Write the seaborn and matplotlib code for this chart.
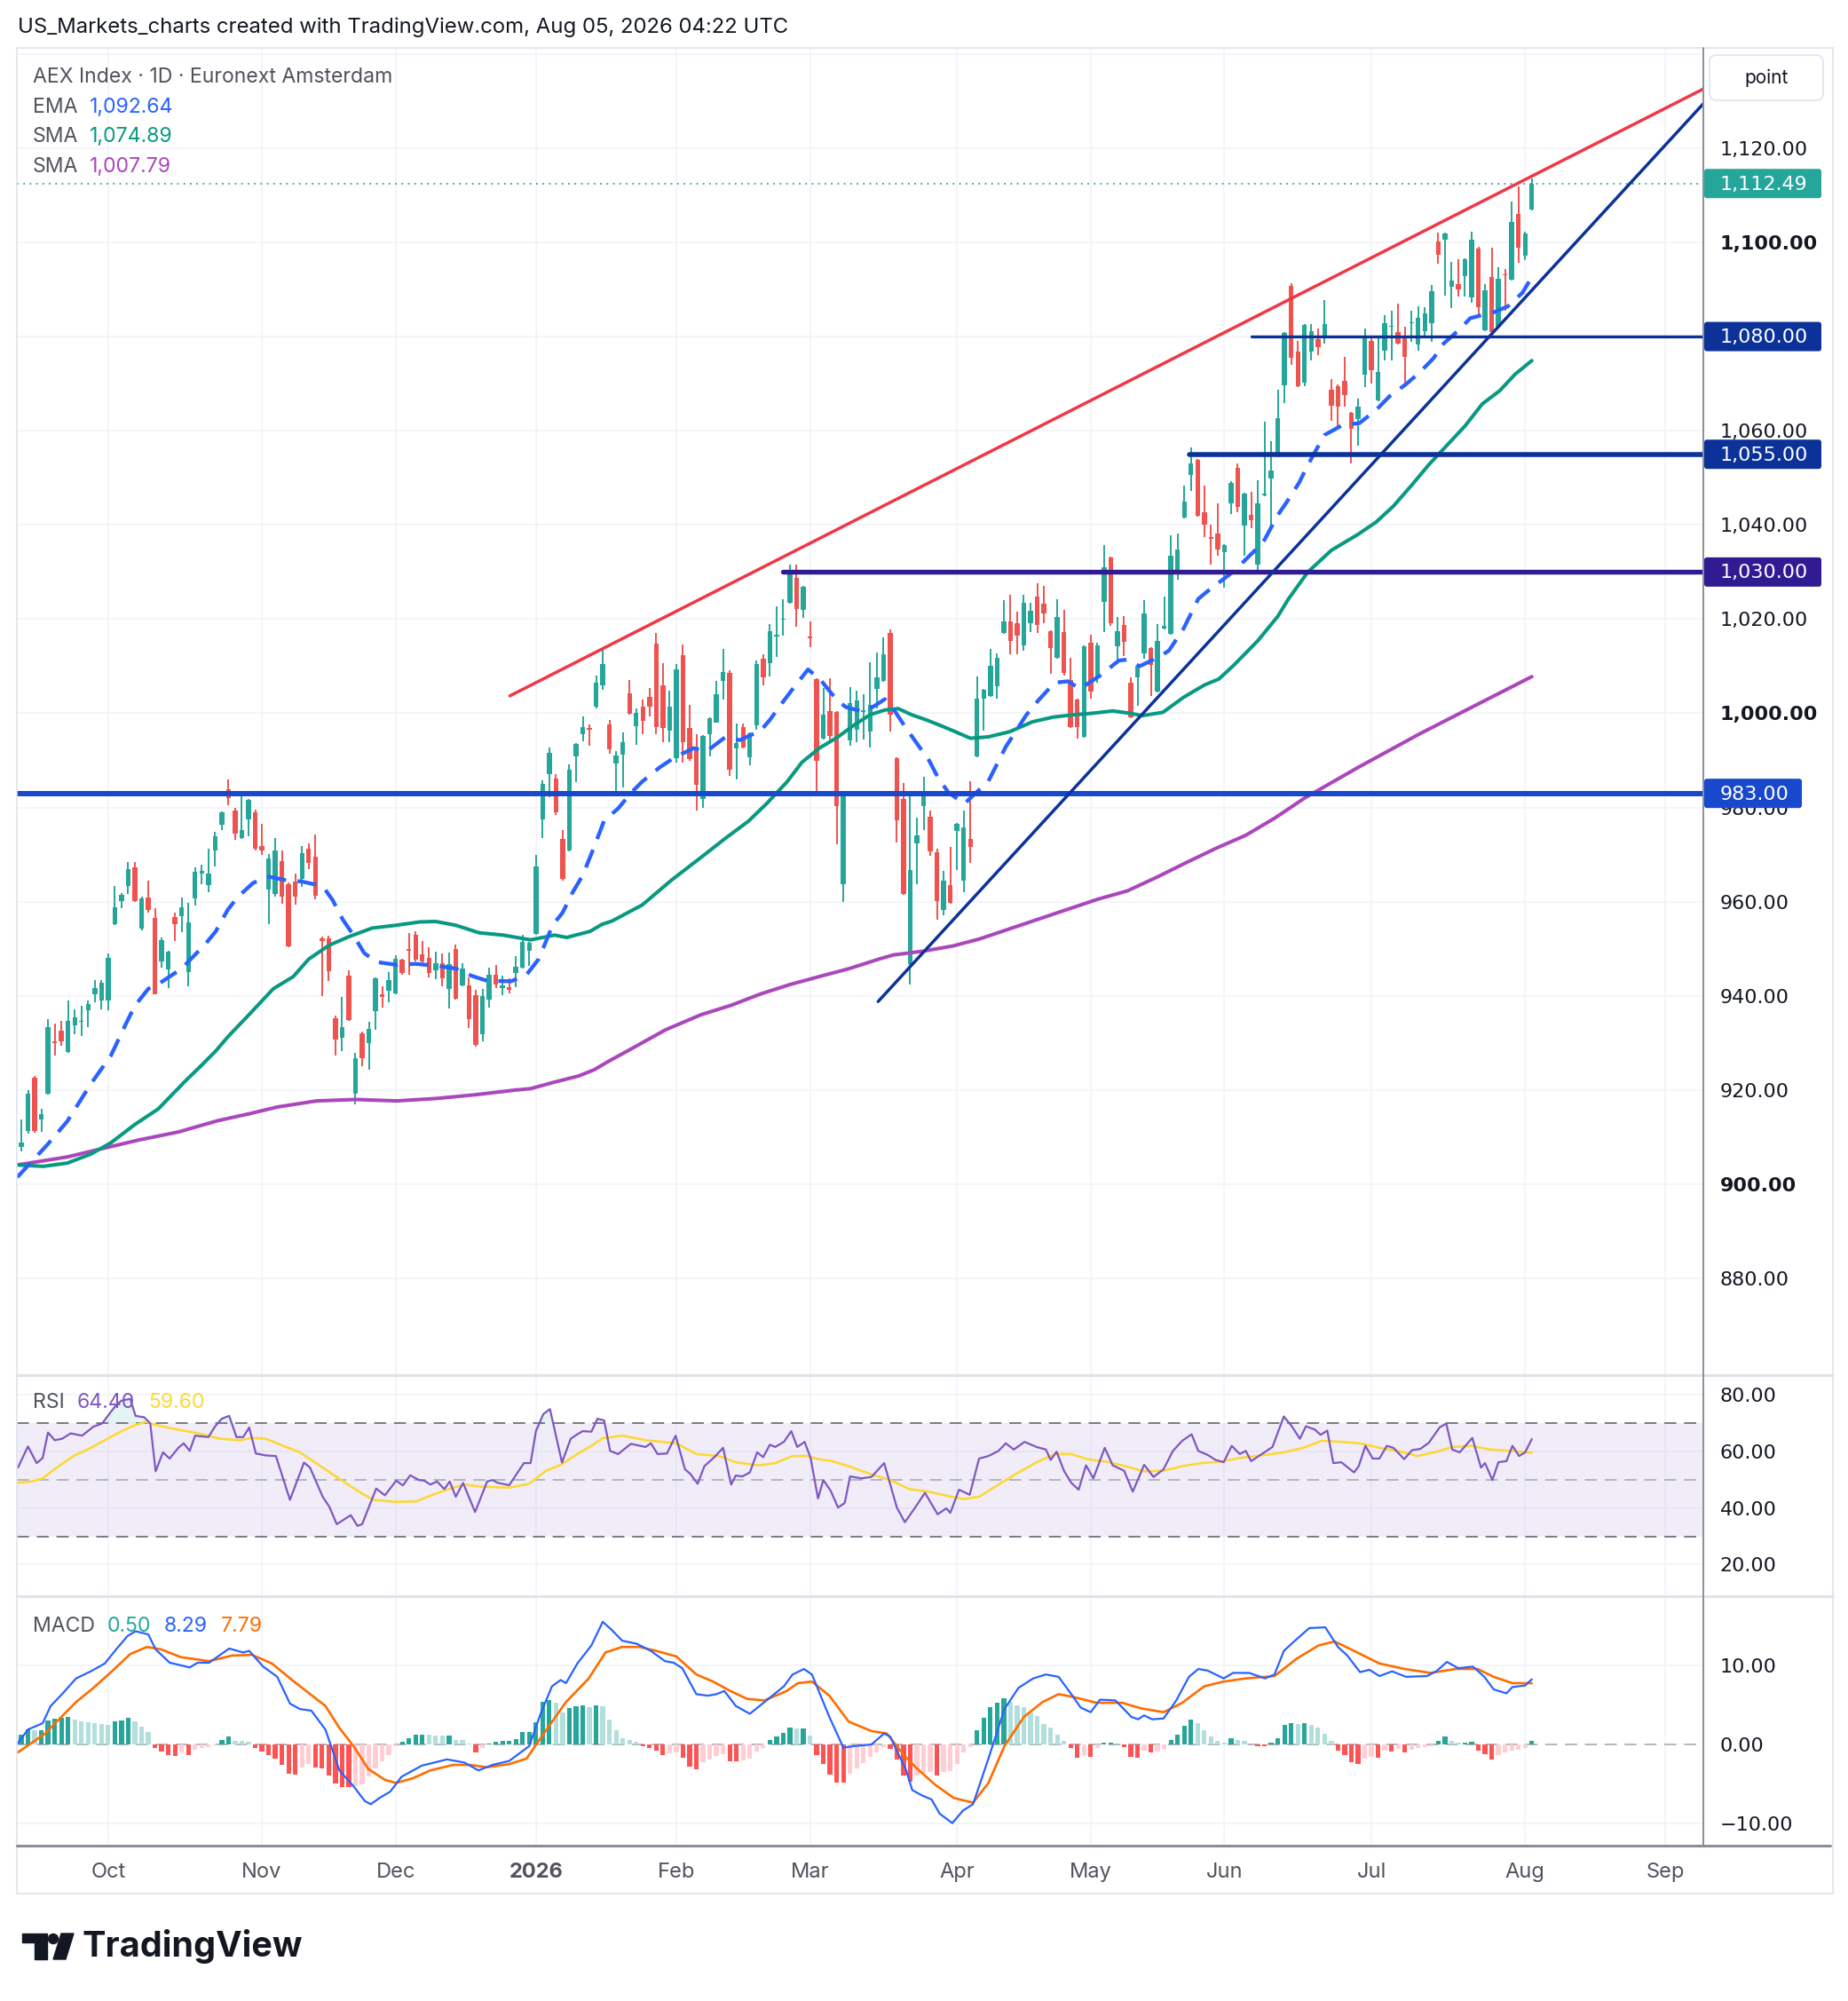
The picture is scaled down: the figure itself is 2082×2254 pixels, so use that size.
import numpy as np
import pandas as pd
import matplotlib
matplotlib.use("Agg")
import matplotlib.pyplot as plt
from matplotlib.patches import Rectangle, FancyBboxPatch, Polygon, Circle
import seaborn as sns

W, H = 2082, 2254

# ---------------- data ----------------
opens = [907.9, 911.4, 922.6, 913.7, 919.3, 930.4, 932.6, 928.1, 933.7, 934.4,
         936.9, 940.4, 939.0, 939.0, 955.3, 960.2, 963.3, 967.3, 954.2, 960.8,
         956.6, 947.4, 945.7, 956.8, 956.9, 945.1, 960.7, 965.9, 963.6, 970.9,
         976.3, 983.8, 979.4, 973.6, 977.5, 979.0, 971.8, 962.6, 961.7, 968.7,
         963.8, 964.3, 964.8, 971.2, 969.6, 952.3, 952.2, 935.2, 931.1, 944.3,
         919.2, 932.0, 930.0, 936.7, 940.4, 941.0, 940.6, 947.6, 950.0, 953.0,
         948.8, 948.1, 945.4, 947.0, 941.4, 950.0, 942.2, 942.3, 940.2, 931.9,
         939.3, 944.4, 941.7, 941.9, 944.9, 946.0, 949.6, 953.2, 977.5, 987.0,
         986.1, 973.4, 970.8, 990.9, 995.5, 996.8, 1001.5, 1006.0, 997.7, 989.4,
         991.2, 1004.2, 997.2, 1001.5, 1003.5, 1014.8, 1005.9, 996.3, 990.4, 1012.4,
         996.8, 992.1, 981.8, 995.6, 998.1, 1006.9, 1008.5, 992.6, 997.1, 990.6,
         997.4, 1011.6, 1010.6, 1016.3, 1019.8, 1023.5, 1028.7, 1022.0, 1016.3, 1007.3,
         994.7, 1000.5, 1000.2, 963.8, 994.2, 996.5, 1000.3, 996.2, 1005.2, 1006.9,
         1017.1, 990.4, 981.8, 946.7, 972.4, 980.3, 978.0, 970.5, 958.2, 963.5,
         975.1, 964.4, 973.4, 990.8, 1003.1, 1003.7, 1005.8, 1017.0, 1019.6, 1019.1,
         1014.4, 1019.1, 1024.8, 1023.3, 1017.5, 1011.8, 1017.3, 1007.0, 1002.9, 995.0,
         1014.9, 1007.6, 1023.6, 1033.0, 1014.2, 1018.8, 1006.5, 1007.6, 1012.8, 1013.9,
         1004.7, 1018.0, 1016.8, 1029.8, 1041.6, 1050.7, 1053.8, 1042.6, 1037.4, 1038.2,
         1034.2, 1044.5, 1052.2, 1039.8, 1042.1, 1031.6, 1046.3, 1049.9, 1054.6, 1069.6,
         1090.8, 1076.8, 1070.3, 1076.8, 1079.5, 1080.1, 1068.8, 1069.5, 1070.5, 1063.8,
         1062.5, 1072.0, 1079.1, 1066.5, 1077.0, 1082.0, 1080.9, 1080.1, 1082.8, 1078.3,
         1081.2, 1082.8, 1100.1, 1100.6, 1090.5, 1091.1, 1092.9, 1088.3, 1098.7, 1081.4,
         1092.7, 1082.0, 1093.3, 1092.1, 1106.0, 1097.1, 1107.0]
highs = [913.7, 919.9, 923.0, 916.0, 935.0, 934.2, 934.7, 939.0, 937.1, 937.9,
         939.0, 943.4, 943.3, 949.0, 963.3, 961.9, 968.5, 968.5, 961.0, 964.5,
         958.6, 952.4, 949.6, 957.6, 960.9, 959.7, 967.3, 967.9, 971.2, 974.8,
         979.2, 986.0, 980.0, 982.5, 981.8, 979.5, 976.5, 970.2, 973.5, 970.9,
         964.0, 966.0, 971.8, 972.4, 974.3, 952.5, 952.7, 935.9, 939.7, 945.4,
         927.9, 932.4, 934.4, 944.0, 942.0, 945.1, 948.6, 947.8, 953.3, 953.7,
         951.6, 950.4, 949.4, 949.1, 949.2, 950.9, 946.9, 943.9, 941.2, 941.5,
         945.9, 946.6, 944.3, 943.7, 948.5, 952.9, 951.5, 969.9, 985.8, 992.7,
         987.1, 975.2, 989.1, 993.7, 999.3, 997.7, 1008.0, 1013.5, 998.5, 991.9,
         995.9, 1007.1, 1001.1, 1002.9, 1005.4, 1017.1, 1010.6, 1004.8, 1010.5, 1014.6,
         1001.8, 995.5, 995.4, 999.1, 1006.8, 1013.6, 1009.1, 997.8, 997.8, 995.9,
         1011.2, 1012.6, 1019.0, 1022.7, 1024.2, 1031.6, 1031.6, 1027.0, 1019.5, 1007.5,
         1005.4, 1007.5, 1000.4, 983.5, 1005.5, 1004.8, 1004.0, 1010.8, 1012.9, 1016.1,
         1017.8, 990.7, 985.2, 982.7, 977.8, 986.5, 979.3, 971.2, 966.5, 971.6,
         976.8, 979.3, 985.6, 1007.9, 1005.1, 1013.7, 1012.8, 1024.0, 1025.1, 1021.5,
         1025.1, 1023.5, 1027.7, 1027.1, 1017.7, 1024.3, 1022.0, 1011.8, 1003.1, 1014.4,
         1016.7, 1014.9, 1035.8, 1033.2, 1020.4, 1020.6, 1007.6, 1010.2, 1024.0, 1014.1,
         1018.9, 1024.8, 1037.7, 1038.2, 1048.4, 1056.5, 1054.0, 1048.4, 1040.0, 1044.5,
         1036.0, 1049.2, 1053.1, 1046.8, 1047.0, 1049.4, 1062.0, 1057.8, 1068.8, 1081.0,
         1091.4, 1079.1, 1082.7, 1082.7, 1081.7, 1087.7, 1070.9, 1069.8, 1075.7, 1064.0,
         1066.9, 1081.8, 1079.9, 1080.1, 1084.5, 1085.5, 1086.9, 1082.0, 1085.4, 1086.4,
         1086.2, 1090.9, 1102.1, 1102.1, 1095.9, 1096.4, 1096.6, 1102.3, 1099.0, 1091.1,
         1098.8, 1094.8, 1094.3, 1108.7, 1111.9, 1102.3, 1113.6]
lows = [906.9, 910.8, 911.0, 911.1, 919.0, 927.4, 929.4, 927.9, 931.8, 931.4,
        933.4, 938.7, 937.2, 936.9, 955.0, 958.7, 961.7, 960.0, 954.0, 957.6,
        940.3, 946.0, 941.7, 951.7, 953.6, 942.0, 959.1, 963.8, 962.1, 967.5,
        975.3, 980.4, 973.1, 973.4, 973.9, 970.9, 970.0, 955.3, 961.1, 959.5,
        950.4, 959.3, 963.1, 967.0, 960.5, 940.0, 943.2, 927.3, 928.2, 934.6,
        917.0, 925.0, 924.3, 932.8, 937.5, 938.7, 940.4, 944.4, 944.5, 947.4,
        946.8, 944.0, 943.5, 942.0, 937.4, 939.2, 942.0, 933.2, 929.3, 930.4,
        937.5, 941.6, 940.1, 940.6, 941.8, 945.8, 946.3, 952.9, 973.6, 982.2,
        978.5, 964.5, 970.6, 985.3, 994.0, 993.1, 1001.0, 1005.0, 991.5, 982.5,
        984.2, 999.8, 993.4, 995.6, 999.3, 995.6, 993.8, 993.8, 989.5, 989.5,
        990.0, 979.3, 980.0, 990.8, 998.0, 1003.0, 986.8, 985.9, 992.6, 988.9,
        996.6, 1006.0, 1007.9, 1011.9, 1016.5, 1023.3, 1018.4, 1020.2, 1014.0, 983.3,
        994.5, 994.3, 972.2, 959.9, 993.2, 993.8, 994.5, 992.8, 1001.0, 1006.7,
        996.1, 972.5, 961.4, 942.4, 963.8, 975.3, 969.8, 956.1, 957.2, 959.5,
        966.7, 962.1, 968.3, 990.6, 996.4, 1003.5, 1003.1, 1016.8, 1012.6, 1012.6,
        1013.3, 1017.3, 1017.0, 1019.1, 1008.3, 1011.6, 1008.1, 996.8, 994.7, 994.8,
        1003.1, 1006.5, 1017.3, 1018.6, 1010.5, 1012.1, 998.9, 1001.6, 1011.5, 1003.7,
        1004.5, 1017.8, 1016.6, 1028.3, 1041.4, 1047.3, 1041.7, 1037.4, 1031.6, 1033.5,
        1026.7, 1042.4, 1042.6, 1033.5, 1039.3, 1029.9, 1046.1, 1039.8, 1054.4, 1065.8,
        1073.9, 1069.3, 1069.5, 1074.9, 1076.0, 1078.6, 1062.2, 1060.7, 1065.1, 1053.0,
        1056.9, 1069.3, 1070.0, 1066.3, 1075.0, 1075.0, 1078.4, 1070.1, 1078.9, 1077.0,
        1079.8, 1078.9, 1095.4, 1088.6, 1086.1, 1088.5, 1088.5, 1087.1, 1084.4, 1081.2,
        1080.7, 1081.7, 1085.5, 1091.9, 1095.7, 1096.2, 1106.8]
closes = [908.9, 919.2, 911.4, 914.8, 933.4, 930.0, 930.4, 934.7, 935.4, 934.5,
          938.2, 941.6, 942.8, 948.1, 958.8, 961.4, 966.9, 960.2, 960.7, 958.3,
          940.4, 951.9, 949.4, 955.2, 958.9, 955.7, 966.3, 966.5, 965.9, 973.9,
          979.0, 982.0, 974.4, 975.2, 981.7, 971.3, 970.8, 969.2, 970.8, 961.0,
          950.6, 961.0, 970.4, 968.3, 961.2, 951.7, 945.3, 930.8, 933.4, 934.8,
          926.7, 926.8, 932.9, 943.8, 939.7, 943.3, 947.8, 944.8, 949.6, 947.6,
          947.4, 944.9, 947.0, 943.7, 946.8, 939.4, 945.8, 935.0, 929.5, 940.0,
          944.4, 942.5, 942.2, 941.2, 946.1, 951.4, 951.3, 967.5, 985.0, 991.6,
          979.0, 964.8, 988.0, 993.5, 997.0, 996.6, 1006.5, 1010.5, 992.4, 991.0,
          993.9, 999.9, 1000.1, 998.4, 1001.5, 997.0, 996.8, 1001.5, 1009.3, 993.8,
          990.2, 984.8, 995.2, 998.9, 1004.0, 1008.7, 988.0, 993.6, 992.8, 995.8,
          1010.5, 1007.6, 1017.4, 1016.5, 1020.0, 1029.8, 1022.2, 1026.9, 1016.0, 990.0,
          999.8, 995.1, 980.3, 983.2, 1002.2, 1002.7, 1000.5, 1001.7, 1007.6, 1012.6,
          999.8, 977.3, 961.6, 966.7, 974.0, 983.2, 970.6, 960.1, 964.4, 959.7,
          976.6, 975.7, 971.7, 1003.1, 1004.9, 1010.0, 1011.8, 1019.6, 1015.4, 1016.5,
          1023.5, 1021.7, 1018.8, 1021.2, 1013.8, 1020.4, 1008.6, 997.1, 997.1, 1014.2,
          1004.7, 1014.4, 1031.1, 1019.1, 1017.5, 1015.2, 999.2, 1010.0, 1021.2, 1010.2,
          1015.4, 1018.6, 1033.5, 1034.8, 1044.9, 1053.1, 1041.9, 1040.0, 1037.1, 1034.8,
          1035.8, 1048.9, 1043.9, 1046.6, 1041.0, 1044.5, 1046.5, 1051.5, 1062.7, 1080.8,
          1075.4, 1069.5, 1082.5, 1081.2, 1077.8, 1082.6, 1065.4, 1065.1, 1067.5, 1060.5,
          1065.1, 1079.9, 1072.8, 1072.4, 1082.9, 1082.2, 1078.6, 1075.7, 1083.0, 1083.9,
          1085.0, 1089.6, 1097.4, 1101.9, 1091.8, 1090.1, 1096.4, 1100.6, 1086.3, 1089.9,
          1080.9, 1092.2, 1093.0, 1104.3, 1098.9, 1101.8, 1112.49]

# moving averages: (bar index, value)
ema20 = [(-0.6, 901.5), (3.9, 908.4), (6.9, 913.4), (10.4, 921.3), (13.4, 927.3), (15.8, 934.5),
         (17, 937.9), (19, 941.5), (20.5, 942.5), (24, 945.8), (27.6, 951.1), (29.1, 953.7),
         (30.9, 958.3), (32.4, 961.0), (34.7, 964.0), (37.1, 965.3), (39.5, 964.6), (41.9, 964.3),
         (45.1, 963.3), (46.6, 960.3), (48.1, 956.2), (49.6, 953.1), (51.3, 949.1), (53.1, 947.2),
         (56.1, 946.6), (59, 946.8), (62, 946.4), (65, 945.8), (67.3, 944.3), (69.7, 943.2),
         (73.3, 943.1), (75.6, 944.5), (77.4, 947.8), (79.5, 955.0), (81, 957.7), (82.5, 962.0),
         (84, 965.6), (85.7, 971.6), (87.2, 977.2), (89.3, 979.8), (91.3, 983.2), (92.9, 985.5),
         (95.5, 988.5), (97.7, 990.6), (100.6, 992.6), (102.6, 992.0), (105.3, 994.9), (107.5, 994.3),
         (110.6, 996.3), (112, 998.6), (114.1, 1002.7), (115.7, 1005.7), (117.7, 1009.3), (119.4, 1007.4),
         (122.1, 1002.7), (123.4, 1001.3), (126.1, 1000.3), (127.8, 1001.7), (129.2, 1003.0), (130.3, 1001.3),
         (132.3, 997.0), (134.5, 992.6), (135.6, 990.6), (137.1, 986.5), (138.7, 983.2), (141.1, 980.8),
         (144.7, 985.6), (147.3, 992.9), (150.4, 999.7), (152.2, 1002.8), (154.6, 1006.5), (156.6, 1006.8),
         (158.4, 1005.2), (161.5, 1008.1), (164.2, 1011.2), (165.5, 1011.4), (167.3, 1010.0), (170, 1011.8),
         (171.7, 1013.3), (173.9, 1018.0), (176.1, 1024.3), (177.9, 1026.4), (180.8, 1029.5), (182.8, 1032.1),
         (185.8, 1036.3), (188.0, 1042.1), (189.4, 1045.0), (191.2, 1049.0), (192.3, 1052.2), (193.6, 1055.6),
         (195, 1059.1), (197.8, 1061.3), (200.2, 1061.6), (202.7, 1064.4), (204.7, 1067.3), (207.1, 1069.8),
         (209.1, 1072.2), (211.3, 1075.4), (212.8, 1078.5), (215.1, 1081.4), (216.8, 1083.9), (220.4, 1085.2),
         (222.4, 1086.4), (224.6, 1089.3), (226, 1092.64)]
sma50 = [(-0.6, 904.1), (3.3, 903.8), (6.9, 904.5), (10.4, 906.4), (13.4, 908.8), (17, 912.7),
         (20.5, 916.0), (24.6, 922.0), (27.0, 925.3), (29.1, 928.3), (30.9, 931.3), (34.2, 936.2),
         (37.7, 941.5), (40.7, 944.1), (43.0, 947.8), (46.0, 950.7), (48.9, 952.5), (52.5, 954.4),
         (56.1, 955.0), (59.6, 955.7), (62.0, 955.8), (65, 955.0), (68.5, 953.4), (72.1, 952.9),
         (76.2, 951.9), (79.8, 952.9), (81.6, 952.4), (85.1, 953.7), (86.9, 955.2), (88.4, 955.9),
         (92.9, 959.3), (97.3, 964.6), (101.7, 969.4), (105.3, 973.4), (108.8, 977.1), (111.5, 980.8),
         (114.6, 985.5), (116.8, 989.6), (119.4, 992.6), (122.1, 994.9), (124.7, 997.6), (127.0, 999.7),
         (129.2, 1000.7), (131.2, 1001.0), (133.2, 999.7), (135.4, 998.6), (137.2, 997.6), (139.4, 996.3),
         (142, 994.7), (144.7, 995.0), (147.9, 996.1), (151.3, 998.2), (154.4, 999.2), (157.5, 999.7),
         (160.2, 1000.0), (163.3, 1000.5), (165.9, 1000.0), (167.7, 999.5), (170.8, 1000.2), (173.9, 1003.4),
         (177, 1006.0), (179.2, 1007.3), (181.4, 1010.2), (185.0, 1015.4), (188.0, 1020.6), (189.6, 1024.3),
         (192.5, 1030.0), (196.0, 1034.6), (200.0, 1038.0), (202.7, 1040.6), (205.3, 1044.0), (208.0, 1048.4),
         (210.6, 1052.8), (213.3, 1056.9), (216, 1061.0), (218.6, 1065.7), (221.2, 1068.5), (223.5, 1072.0),
         (226, 1074.89)]
sma200 = [(-0.6, 904.1), (6.9, 905.8), (11.6, 907.4), (17.6, 909.4), (23.5, 911.1), (29.4, 913.5),
          (34.2, 915.0), (38.3, 916.4), (44.2, 917.7), (50.1, 918.0), (56.1, 917.7), (62, 918.2),
          (67.9, 919.0), (73.9, 920.0), (76.2, 920.3), (79.8, 921.7), (83.4, 923.0), (85.7, 924.3),
          (88.1, 926.3), (89.8, 927.6), (96.4, 932.8), (101.7, 936.0), (106.2, 938.0), (110.6, 940.4),
          (115.0, 942.4), (119.4, 944.1), (123.9, 945.8), (128.3, 947.8), (130.5, 948.7), (135.0, 949.5),
          (139.4, 950.6), (143.4, 952.1), (147.8, 954.2), (152.2, 956.3), (156.6, 958.4), (161.0, 960.5),
          (165.5, 962.3), (169.9, 965.2), (174.3, 968.3), (178.7, 971.3), (183.2, 974.1), (187.6, 977.8),
          (192.0, 982.0), (200, 988.5), (209.3, 995.7), (226, 1007.79)]

# drawings: trend lines (start idx, start price, end idx, end price) and horizontal levels (price, start idx)
red_trend = (73.1, 1003.7, 251.7, 1132.6)
navy_trend = (128.2, 938.8, 251.7, 1129.5)
levels = [(983.0, -0.7), (1030.0, 114.0), (1055.0, 174.8), (1080.0, 184.0)]
last_price = 1112.49

# RSI(14) and its moving average: (bar index, value)
rsi = [(-0.5, 54.3), (1.0, 61.8), (2.3, 55.9), (3.2, 57.7), (4.0, 66.7), (5.0, 64.0), (6.1, 64.5),
       (7.4, 66.4), (9.1, 65.6), (10.8, 68.8), (12.1, 69.9), (13.3, 73.7), (14.2, 76.4), (15.0, 78.0),
       (16.3, 78.6), (17.1, 72.6), (18.4, 72.1), (19.3, 69.9), (20.1, 53.0), (21.2, 59.7), (22.2, 57.5),
       (23.5, 61.3), (24.3, 62.9), (25.2, 60.2), (26.0, 65.6), (28.0, 65.1), (29.0, 68.9), (30.0, 71.6),
       (31.1, 72.6), (32.2, 65.1), (33.2, 65.1), (34.1, 68.5), (35.1, 59.3), (36.6, 58.6), (38.1, 58.4),
       (40.2, 42.9), (42.3, 56.1), (43.2, 54.3), (45.1, 44.0), (46.1, 40.4), (47.2, 34.3), (49.3, 37.5),
       (50.3, 33.7), (51.0, 34.3), (53.1, 46.9), (54.4, 44.5), (56.1, 49.7), (57.1, 48.0), (58.2, 51.6),
       (59.5, 49.9), (60.3, 49.7), (61.2, 48.3), (62.2, 49.4), (63.3, 46.7), (64.1, 49.4), (65.0, 44.0),
       (66.1, 48.9), (67.9, 38.6), (69.7, 49.4), (70.5, 49.9), (71.3, 48.9), (73.0, 48.1), (75.2, 55.9),
       (76.2, 55.9), (77.0, 67.2), (78.1, 73.2), (79.1, 75.0), (80.9, 56.1), (82.2, 64.5), (83.2, 66.1),
       (84.0, 67.2), (85.3, 67.0), (86.2, 71.6), (87.2, 71.0), (88.1, 60.2), (89.3, 59.1), (91.2, 62.7),
       (93.4, 61.6), (94.2, 62.9), (95.2, 59.1), (96.6, 59.3), (97.9, 65.6), (99.3, 53.7), (100.1, 52.1),
       (101.2, 48.6), (102.2, 54.8), (103.7, 58.0), (105.0, 61.3), (106.2, 48.3), (106.9, 51.5),
       (107.9, 51.2), (109.0, 52.6), (110.1, 59.7), (111.0, 58.0), (112.0, 62.4), (112.8, 61.6),
       (114.1, 63.4), (115.2, 67.2), (116.1, 61.6), (117.2, 63.4), (118.1, 57.7), (119.2, 43.4),
       (120.0, 49.9), (121.1, 46.1), (122.2, 40.2), (123.2, 41.8), (124.0, 51.2), (125.7, 50.5),
       (127.2, 51.0), (129.1, 55.9), (131.0, 40.2), (132.2, 35.0), (133.8, 40.4), (135.2, 45.4),
       (137.1, 37.8), (138.4, 39.9), (139.0, 38.3), (140.3, 46.5), (141.9, 44.7), (143.3, 57.5),
       (144.7, 58.4), (146.2, 60.2), (147.3, 62.9), (148.5, 60.7), (150.1, 63.4), (151.9, 61.6),
       (153.3, 60.7), (154.0, 57.0), (154.9, 59.9), (156.0, 53.2), (157.1, 48.9), (158.2, 46.5),
       (159.3, 55.1), (160.4, 50.5), (162.1, 61.3), (163.3, 55.1), (165.0, 53.2), (166.3, 45.8),
       (168.0, 55.3), (169.4, 51.0), (170.9, 53.7), (172.3, 60.2), (173.7, 63.8), (175.1, 66.1),
       (176.1, 60.2), (177.5, 58.8), (178.7, 57.0), (179.9, 56.2), (181.1, 62.0), (182.3, 59.1),
       (183.2, 60.2), (184.0, 56.6), (185.6, 59.1), (187.2, 61.6), (188.9, 72.4), (190.1, 68.9),
       (191.3, 64.5), (192.2, 68.9), (193.5, 67.8), (194.4, 65.9), (195.4, 67.4), (196.3, 55.9),
       (197.5, 56.2), (199.4, 52.6), (200.1, 54.8), (201.1, 62.0), (202.2, 57.5), (203.2, 57.5),
       (204.3, 62.0), (205.3, 61.3), (206.9, 57.3), (208.1, 60.5), (209.3, 60.9), (210.6, 63.1),
       (212.2, 68.5), (213.2, 69.9), (214.1, 60.7), (215.2, 59.7), (217.1, 64.8), (218.4, 54.3),
       (219.0, 55.9), (220.1, 49.9), (221.0, 56.2), (222.2, 56.6), (223.1, 62.0), (224.1, 58.4),
       (225.0, 59.7), (226.0, 64.4)]
rsi_ma = [(-0.5, 48.9), (1.5, 49.4), (3.2, 50.5), (5.3, 54.3), (7.8, 58.4), (10.4, 61.3), (12.9, 64.5),
          (15.0, 67.2), (17.1, 69.4), (18.7, 70.5), (20.1, 69.4), (22.2, 68.3), (26.5, 66.4), (29.8, 64.5),
          (32.8, 64.0), (34.5, 64.8), (36.6, 64.5), (39.2, 62.0), (41.7, 59.7), (45.1, 54.3), (48.5, 48.9),
          (51.0, 45.1), (52.7, 42.9), (56.1, 42.2), (59.1, 42.4), (62.0, 45.1), (64.6, 47.2), (66.3, 48.3),
          (68.8, 47.6), (73.0, 47.2), (76.0, 48.6), (78.5, 53.2), (80.7, 55.3), (83.2, 59.1), (85.3, 62.0),
          (87.0, 64.7), (90.0, 65.6), (93.4, 64.0), (95.9, 63.4), (98.0, 62.9), (101.0, 59.1), (104.4, 58.4),
          (106.9, 56.2), (110.3, 55.1), (112.8, 55.9), (115.4, 58.4), (117.5, 58.4), (119.2, 57.3),
          (121.3, 56.6), (123.8, 54.8), (127.2, 51.9), (130.0, 49.9), (132.9, 46.7), (135.7, 45.8),
          (138.6, 44.3), (140.9, 43.2), (143.3, 44.0), (146.2, 48.3), (149.0, 52.3), (151.9, 56.2),
          (154.7, 59.1), (157.1, 59.1), (159.5, 57.3), (162.3, 56.4), (165.2, 54.8), (168.0, 53.0),
          (170.9, 53.2), (173.7, 54.8), (176.6, 55.9), (179.4, 56.4), (182.3, 57.7), (186.1, 58.8),
          (188.9, 59.7), (191.8, 61.3), (194.6, 63.8), (197.5, 63.4), (200.3, 62.9), (203.2, 61.3),
          (206.0, 60.2), (208.9, 58.4), (211.7, 59.9), (214.1, 61.6), (216.9, 62.0), (219.8, 60.7),
          (223.1, 60.2), (226.0, 59.6)]

# MACD line, signal line: (bar index, value); histogram per bar
macd = [(-0.5, 0.2), (1.0, 1.9), (3.2, 2.7), (4.4, 4.9), (6.1, 6.4), (8.2, 8.4), (10.4, 9.3), (12.5, 10.3),
        (14.2, 12.1), (15.9, 13.8), (17.1, 14.4), (19.0, 14.0), (20.1, 12.1), (22.2, 10.4), (25.2, 9.8),
        (26.4, 10.4), (28.1, 10.4), (31.1, 12.2), (33.2, 11.7), (34.1, 11.9), (36.2, 9.9), (38.3, 8.6),
        (40.2, 5.2), (41.7, 4.5), (43.4, 4.3), (45.5, 1.9), (47.6, -3.3), (49.7, -5.3), (51.4, -7.2),
        (52.3, -7.6), (53.6, -6.8), (55.2, -6.0), (56.9, -4.1), (59.9, -2.7), (63.7, -1.9), (66.3, -2.3),
        (68.4, -3.3), (70.5, -2.6), (73.0, -2.1), (76.0, -0.2), (77.7, 3.9), (79.4, 7.4), (80.7, 8.2),
        (81.5, 7.8), (83.2, 10.3), (85.3, 12.6), (87.0, 15.6), (88.3, 14.6), (89.9, 13.2), (92.1, 12.8),
        (94.2, 11.9), (96.3, 10.6), (97.6, 10.4), (98.9, 9.7), (101.0, 6.4), (102.7, 6.2), (104.0, 6.4),
        (105.2, 6.8), (106.9, 4.9), (109.0, 3.9), (111.2, 5.4), (114.1, 7.4), (115.4, 8.9), (117.1, 9.6),
        (118.3, 8.9), (120.9, 3.5), (123.0, -0.4), (124.7, -0.2), (127.2, 0.0), (129.1, 1.4), (130.0, 1.0),
        (132.4, -3.3), (133.3, -5.8), (134.8, -6.5), (136.2, -7.0), (137.4, -8.8), (139.3, -10.0),
        (140.9, -8.4), (142.4, -7.6), (144.7, -1.8), (147.1, 4.5), (149.2, 7.2), (151.4, 8.4), (153.3, 8.9),
        (155.2, 8.6), (157.1, 6.4), (158.5, 4.7), (160.0, 4.1), (161.4, 5.7), (163.7, 5.6), (166.1, 3.5),
        (167.1, 3.2), (168.0, 3.7), (169.2, 3.2), (170.9, 3.3), (172.8, 5.6), (174.7, 8.6), (176.1, 9.6),
        (177.5, 9.4), (179.9, 8.4), (181.3, 9.1), (183.7, 9.1), (186.1, 8.4), (187.5, 8.9), (188.9, 11.9),
        (190.3, 13.0), (192.7, 14.8), (195.1, 14.9), (197.0, 12.4), (198.4, 11.3), (200.3, 9.2),
        (201.7, 9.5), (203.2, 8.7), (205.1, 9.3), (207.2, 8.6), (210.3, 8.7), (211.7, 9.3), (213.3, 10.5),
        (215.0, 9.7), (217.2, 9.9), (218.9, 8.6), (220.3, 7.0), (222.2, 6.5), (223.1, 7.3), (225.0, 7.5),
        (226.0, 8.29)]
signal = [(-0.5, -1.0), (1.9, 0.4), (3.6, 1.4), (5.3, 2.9), (8.2, 5.4), (10.8, 7.2), (13.3, 9.1),
          (16.3, 11.5), (18.8, 12.4), (20.9, 12.1), (23.9, 11.1), (28.1, 10.6), (31.5, 11.3), (34.5, 11.4),
          (37.5, 10.3), (40.8, 8.0), (45.5, 4.9), (47.6, 2.1), (49.7, -0.2), (51.9, -3.1), (54.4, -4.5),
          (56.1, -4.9), (58.6, -4.3), (61.2, -3.3), (64.6, -2.6), (67.1, -2.6), (69.7, -2.9), (73.0, -2.5),
          (75.6, -1.8), (78.1, 1.3), (81.5, 5.4), (84.9, 8.4), (87.4, 11.7), (89.9, 12.4), (92.5, 12.4),
          (95.0, 11.9), (98.0, 11.2), (101.0, 8.9), (103.5, 8.0), (106.1, 6.8), (108.6, 5.8), (111.2, 5.6),
          (114.5, 6.8), (116.2, 7.8), (118.3, 8.0), (120.9, 6.2), (123.8, 2.9), (127.2, 1.7), (129.5, 1.4),
          (131.9, -1.2), (133.8, -2.9), (136.7, -5.1), (139.5, -6.8), (142.4, -7.4), (144.7, -4.9),
          (147.1, -0.2), (150.0, 3.5), (152.8, 5.4), (155.2, 6.4), (157.6, 6.0), (160.9, 5.3), (164.7, 5.3),
          (167.5, 4.6), (170.9, 4.1), (173.7, 5.3), (177.0, 7.4), (179.9, 8.0), (183.2, 8.4), (187.5, 8.7),
          (190.8, 10.9), (194.1, 12.6), (196.5, 13.1), (199.4, 11.9), (203.2, 10.3), (207.0, 9.6),
          (210.8, 9.1), (214.6, 9.6), (217.9, 9.6), (220.3, 8.6), (223.1, 7.8), (226.0, 7.79)]
hist = [1.2, 1.9, 1.8, 1.8, 3.1, 3.3, 3.4, 3.5, 3.2, 2.9,
        2.8, 2.7, 2.6, 2.5, 2.9, 3.1, 3.4, 2.9, 2.3, 1.6,
        -0.4, -0.9, -1.4, -1.5, -1.0, -1.3, -0.7, -0.4, -0.3, -0.1,
        0.6, 1.0, 0.5, 0.4, 0.3, -0.4, -0.9, -1.4, -1.8, -2.6,
        -3.7, -3.8, -2.9, -2.5, -2.9, -3.1, -3.9, -5.0, -5.4, -5.45,
        -5.3, -5.1, -4.1, -3.1, -2.1, -1.3, -0.2, 0.3, 0.8, 1.2,
        1.3, 1.2, 1.15, 1.1, 1.15, 0.6, 0.55, 0.1, -1.0, -0.5,
        0.1, 0.3, 0.4, 0.5, 0.7, 1.6, 1.6, 2.8, 5.4, 5.7,
        5.3, 4.1, 4.6, 4.9, 5.0, 4.8, 5.0, 4.9, 3.2, 1.8,
        0.8, 0.6, 0.3, -0.2, -0.4, -0.8, -1.3, -1.1, -1.0, -1.7,
        -2.8, -3.2, -2.2, -1.9, -1.5, -1.2, -2.1, -2.15, -2.0, -1.8,
        -0.9, -0.4, 0.6, 1.0, 1.5, 2.1, 2.0, 2.0, 1.1, -1.3,
        -2.5, -3.8, -4.8, -4.9, -3.7, -3.1, -2.4, -1.6, -1.0, -0.3,
        -0.6, -1.9, -4.0, -4.7, -4.0, -3.6, -3.5, -3.9, -3.5, -3.4,
        -2.5, -1.0, -0.3, 1.8, 3.4, 4.7, 5.3, 5.9, 5.4, 5.0,
        4.7, 4.1, 3.6, 2.6, 2.1, 1.2, 0.4, -0.5, -1.7, -1.4,
        -1.6, -0.5, 0.2, 0.25, 0.05, -0.3, -1.6, -1.65, -0.8, -1.0,
        -0.9, -0.6, 0.6, 1.3, 2.4, 3.2, 2.7, 1.8, 1.0, 0.4,
        0.2, 0.8, 0.6, 0.5, 0.05, -0.2, -0.2, 0.2, 0.8, 2.5,
        2.7, 2.6, 2.7, 2.5, 2.1, 1.4, 0.4, -0.8, -1.4, -2.2,
        -2.5, -1.8, -1.6, -1.7, -0.8, -0.9, -0.6, -1.0, -0.7, -0.4,
        -0.3, -0.2, 0.4, 1.0, 0.5, 0.2, 0.2, 0.3, -0.8, -1.2,
        -1.9, -1.4, -1.0, -0.8, -0.7, -0.4, 0.5]

month_labels = ["Oct", "Nov", "Dec", "2026", "Feb", "Mar", "Apr", "May", "Jun", "Jul", "Aug", "Sep"]
price_ticks = list(range(880, 1121, 20))

# ---------------- style ----------------
UP, DOWN = "#26A69A", "#EF5350"
GRID = "#F0F3FA"
TXT = "#131722"
AXF = "DejaVu Sans"
LEG = 16.6

sns.set_theme(style="white")
plt.rcParams["font.family"] = ["Inter", "DejaVu Sans"]

# trading calendar (Euronext holidays removed)
holidays = pd.to_datetime(["2025-12-25", "2025-12-26", "2026-01-01",
                           "2026-04-03", "2026-04-06", "2026-05-01"])
days = pd.bdate_range("2025-09-12", "2026-09-30")
days = days[~days.isin(holidays)]
firsts = pd.Series(np.arange(len(days)), index=days).groupby([days.year, days.month]).first()
month_idx = list(firsts.values[1:1 + len(month_labels)])

fig = plt.figure(figsize=(W / 100, H / 100), dpi=100, facecolor="white")

def box(top, bottom):
    return [19 / W, 1 - bottom / H, 1900 / W, (bottom - top) / H]

ax_p = fig.add_axes(box(54, 1549))
ax_r = fig.add_axes(box(1549, 1798))
ax_m = fig.add_axes(box(1798, 2079))
XLIM = (-0.66, 251.66)

for ax in (ax_p, ax_r, ax_m):
    ax.set_facecolor("none")
    for s in ax.spines.values():
        s.set_visible(False)
    ax.vlines(month_idx, -1e4, 1e4, color=GRID, lw=1.1, zorder=0)
    ax.set_xticks([])

# ---------------- price pane ----------------
ax_p.hlines(list(range(880, 1141, 20)), XLIM[0], XLIM[1], color=GRID, lw=1.1, zorder=0)
idx = np.arange(len(closes))
o, h, l, c = map(np.array, (opens, highs, lows, closes))
col = np.where(c >= o, UP, DOWN)
ax_p.vlines(idx, l, h, colors=col, lw=1.4, zorder=3)
ax_p.bar(idx, np.maximum(np.abs(c - o), 0.3), bottom=np.minimum(o, c), width=0.72,
         color=col, linewidth=0, zorder=4)

for pts, color, lw, ls in [(sma200, "#AB47BC", 2.9, "-"), (sma50, "#089981", 2.9, "-"),
                           (ema20, "#2962FF", 3.1, (0, (5, 3)))]:
    xs, ys = zip(*pts)
    sns.lineplot(x=list(xs), y=list(ys), ax=ax_p, color=color, lw=lw, linestyle=ls,
                 estimator=None, sort=False, zorder=5)

ax_p.axhline(last_price, color=UP, lw=1.3, ls=(0, (1, 3)), zorder=2)
lvl_col = {983.0: ("#1848CC", 4.3), 1030.0: ("#311B92", 3.9), 1055.0: ("#0C3299", 4.0), 1080.0: ("#0C3299", 2.4)}
for price, start in levels:
    cc, lw = lvl_col[price]
    ax_p.plot([start, XLIM[1] + 1], [price, price], color=cc, lw=lw, solid_capstyle="round", zorder=6)
for (x0, y0, x1, y1), cc in [(red_trend, "#F23645"), (navy_trend, "#0C3299")]:
    ax_p.plot([x0, x1], [y0, y1], color=cc, lw=2.5, solid_capstyle="round", zorder=6)

ax_p.set_xlim(*XLIM)
ax_p.set_ylim(859.47, 1141.28)
ax_p.yaxis.tick_right()
ax_p.set_yticks(price_ticks, labels=[f"{v:,.2f}" for v in price_ticks], fontfamily=AXF)
for v, t in zip(price_ticks, ax_p.get_yticklabels()):
    if v % 100 == 0:
        t.set_fontweight("bold")
ax_p.tick_params(axis="y", length=0, pad=13.5, labelsize=16, labelcolor=TXT)
ax_p.set_xlabel("")
ax_p.set_ylabel("")

# ---------------- RSI pane ----------------
ax_r.hlines([20, 40, 60, 80], XLIM[0], XLIM[1], color=GRID, lw=1.1, zorder=0)
ax_r.axhspan(30, 70, color="#7E57C2", alpha=0.1, lw=0, zorder=0)
rx, ry = map(np.array, zip(*rsi))
ax_r.fill_between(rx, ry, 70, where=ry > 70, interpolate=True, color="#26A69A", alpha=0.12, lw=0)
for y, cc in [(70, "#787B86"), (50, "#B2B5BE"), (30, "#787B86")]:
    ax_r.axhline(y, color=cc, lw=1.4, ls=(0, (7, 4.5)), zorder=1)
sns.lineplot(x=list(rx), y=list(ry), ax=ax_r, color="#7E57C2", lw=1.6, estimator=None, sort=False, zorder=4)
mx, my = zip(*rsi_ma)
sns.lineplot(x=list(mx), y=list(my), ax=ax_r, color="#FDD835", lw=1.9, estimator=None, sort=False, zorder=3)
ax_r.set_xlim(*XLIM)
ax_r.set_ylim(8.85, 87.0)
ax_r.yaxis.tick_right()
ax_r.set_yticks([20, 40, 60, 80], labels=["20.00", "40.00", "60.00", "80.00"], fontfamily=AXF)
ax_r.tick_params(axis="y", length=0, pad=13.5, labelsize=16, labelcolor=TXT)
ax_r.set_xlabel("")
ax_r.set_ylabel("")

# ---------------- MACD pane ----------------
ax_m.hlines([-10, 10], XLIM[0], XLIM[1], color=GRID, lw=1.1, zorder=0)
ax_m.axhline(0, color="#B2B5BE", lw=1.4, ls=(0, (7, 4.5)), zorder=1)
hcol = []
prev = 0.0
for v in hist:
    if v >= 0:
        hcol.append("#26A69A" if v >= prev else "#B2DFDB")
    else:
        hcol.append("#FF5252" if v <= prev else "#FFCDD2")
    prev = v
ax_m.bar(np.arange(len(hist)), hist, width=0.7, color=hcol, linewidth=0, zorder=2)
for pts, cc, lw in [(signal, "#FF6D00", 1.9), (macd, "#2962FF", 1.6)]:
    xs, ys = zip(*pts)
    sns.lineplot(x=list(xs), y=list(ys), ax=ax_m, color=cc, lw=lw, estimator=None, sort=False, zorder=4)
ax_m.set_xlim(*XLIM)
ax_m.set_ylim(-12.87, 18.86)
ax_m.yaxis.tick_right()
ax_m.set_yticks([-10, 0, 10], labels=["\u221210.00", "0.00", "10.00"], fontfamily=AXF)
ax_m.tick_params(axis="y", length=0, pad=13.5, labelsize=16, labelcolor=TXT)
ax_m.set_xticks(month_idx, labels=month_labels)
for lab in ax_m.get_xticklabels():
    if lab.get_text() == "2026":
        lab.set_fontweight("bold")
ax_m.tick_params(axis="x", length=0, pad=14, labelsize=17, labelcolor="#50535E")
ax_m.set_xlabel("")
ax_m.set_ylabel("")

# ---------------- overlay (frame, labels, legends) ----------------
ov = fig.add_axes([0, 0, 1, 1], zorder=10)
ov.set_xlim(0, W)
ov.set_ylim(H, 0)
ov.axis("off")
ov.patch.set_alpha(0)

def py(ax, v):
    return H - ax.transData.transform((0, v))[1]

ov.add_patch(Rectangle((19, 54), 2046, 2079, fill=False, ec="#E0E3EB", lw=1.2))
for y in (1549, 1798):
    ov.plot([19, 2065], [y, y], color="#E0E3EB", lw=2.2)
ov.plot([1919, 1919], [54, 2079], color="#8A8E99", lw=1.4)
ov.plot([19, 2062], [2079, 2079], color="#8A8E99", lw=2.2)

ov.add_patch(FancyBboxPatch((1926, 62), 128, 51, boxstyle="round,pad=0,rounding_size=8",
                            fc="white", ec="#E0E3EB", lw=1.2))
ov.text(1990, 88, "point", ha="center", va="center", fontsize=15, color=TXT)

tags = [(last_price, "1,112.49", UP, 132), (1080.0, "1,080.00", "#0C3299", 132),
        (1055.0, "1,055.00", "#0C3299", 132), (1030.0, "1,030.00", "#311B92", 132),
        (983.0, "983.00", "#1848CC", 110)]
for v, txt, cc, w in tags:
    y = py(ax_p, v)
    ov.add_patch(FancyBboxPatch((1920, y - 16.5), w, 33, boxstyle="round,pad=0,rounding_size=3",
                                fc=cc, ec="none"))
    ov.text(1938, y + 1, txt, ha="left", va="center", fontsize=16, color="white", fontfamily=AXF)

ov.text(20, 31, "US_Markets_charts created with TradingView.com, Aug 05, 2026 04:22 UTC",
        ha="left", va="center", fontsize=17.2, color=TXT)
ov.text(37, 87, "AEX Index \u00b7 1D \u00b7 Euronext Amsterdam", ha="left", va="center",
        fontsize=LEG, color="#50535E")
for y, name, val, cc in [(121, "EMA", "1,092.64", "#2962FF"), (154, "SMA", "1,074.89", "#089981"),
                         (188, "SMA", "1,007.79", "#AB47BC")]:
    ov.text(37, y, name, ha="left", va="center", fontsize=LEG, color="#50535E")
    ov.text(101, y, val, ha="left", va="center", fontsize=LEG, color=cc)

for x, t, cc in [(37, "RSI", "#50535E"), (87, "64.40", "#7E57C2"), (167, "59.60", "#FDD835")]:
    ov.text(x, 1580, t, ha="left", va="center", fontsize=LEG, color=cc)
for x, t, cc in [(37, "MACD", "#50535E"), (121, "0.50", "#26A69A"), (185, "8.29", "#2962FF"),
                 (249, "7.79", "#FF6D00")]:
    ov.text(x, 1832, t, ha="left", va="center", fontsize=LEG, color=cc)

# TradingView logo
ov.add_patch(Polygon([(25, 2178), (53, 2178), (53, 2207), (39, 2207), (39, 2188), (25, 2188)], color=TXT))
ov.add_patch(Circle((60, 2184), 5.5, color=TXT))
ov.add_patch(Polygon([(69, 2178), (83, 2178), (74, 2207), (60, 2207)], color=TXT))
ov.text(92, 2193, "TradingView", ha="left", va="center", fontsize=28.5, fontweight="bold", color=TXT)

fig.savefig("out.png", dpi=100)
